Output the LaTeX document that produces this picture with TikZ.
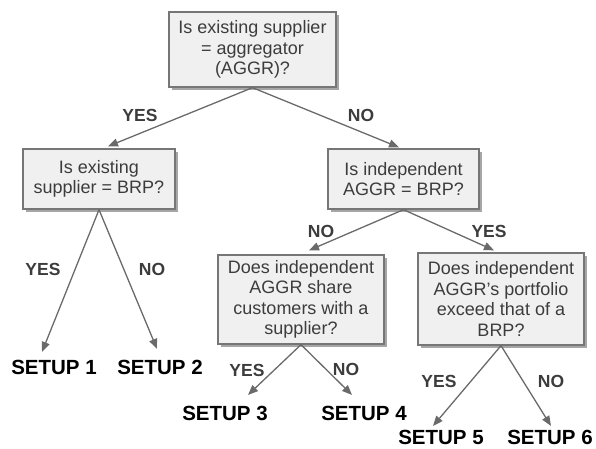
\documentclass[tikz,border=0pt]{standalone}
\usepackage{fontspec}
\setmainfont{Liberation Sans}
\usetikzlibrary{arrows.meta,shadows}
\definecolor{boxfill}{HTML}{F0F0F0}
\definecolor{boxline}{HTML}{767676}
\definecolor{boxshadow}{HTML}{A6A6A6}
\definecolor{arrowgray}{HTML}{6A6A6A}
\definecolor{textgray}{HTML}{3C3C3C}

\begin{document}
\begin{tikzpicture}[x=1pt, y=-1pt,
	question/.style={draw=boxline, line width=1.3pt, fill=boxfill, align=center, text=textgray,
		font=\fontsize{18}{20.5}\selectfont, inner sep=0pt,
		drop shadow={shadow xshift=3pt, shadow yshift=-3pt, fill=boxshadow, opacity=1}},
	answer/.style={font=\fontsize{17.5}{20}\selectfont\bfseries, text=textgray, inner sep=0pt},
	setup/.style={font=\fontsize{20.5}{24}\selectfont\bfseries, inner sep=2pt},
	branch/.style={draw=arrowgray, line width=1.3pt, -{Triangle[length=10pt,width=8pt]}}]

\useasboundingbox (0,0) rectangle (596,448);

\node[question, minimum width=167pt, minimum height=75pt] (agg) at (252.5,49.5) {Is existing supplier\\= aggregator\\(AGGR)?};
\node[question, minimum width=152pt, minimum height=60pt] (sup) at (99,179) {Is existing\\supplier = BRP?};
\node[question, minimum width=151pt, minimum height=60pt] (ind) at (403.5,179) {Is independent\\AGGR = BRP?};
\node[question, minimum width=166pt, minimum height=89pt] (share) at (301,299.5) {Does independent\\AGGR share\\customers with a\\supplier?};
\node[question, minimum width=166pt, minimum height=92pt] (port) at (501,299) {Does independent\\AGGR's portfolio\\exceed that of a\\BRP?};

\foreach [count=\i] \x\y in {54/367,160/367,225/413,364/413,441/437.5,550/437.5}{
	\node[setup] (s\i) at (\x,\y) {SETUP \i};
}

\node[answer] (aggyes) at (140,115) {YES};
\node[answer] (aggno) at (361,115) {NO};
\node[answer] (supyes) at (43,269) {YES};
\node[answer] (supno) at (152,269) {NO};
\node[answer] (indno) at (321,231) {NO};
\node[answer] (indyes) at (489,231) {YES};
\node[answer] (shareyes) at (247,370) {YES};
\node[answer] (shareno) at (346,369) {NO};
\node[answer] (portyes) at (439,381) {YES};
\node[answer] (portno) at (551,381) {NO};

\foreach \u/\v/\dx/\dy in {
agg/sup/9/2%
,agg/ind/-4.5/1%
,sup/s1/-12/5.6%
,sup/s2/-3/8.6%
,ind/share/8/4%
,ind/port/-7/2%
,share/s3/23/8.6%
,share/s4/-12/8.6%
,port/s5/-8/2.1%
,port/s6/1/2.1%
}{
	\draw[branch] (\u.south) -- ([xshift=\dx pt, yshift=\dy pt]\v.north);
}

\end{tikzpicture}
\end{document}
